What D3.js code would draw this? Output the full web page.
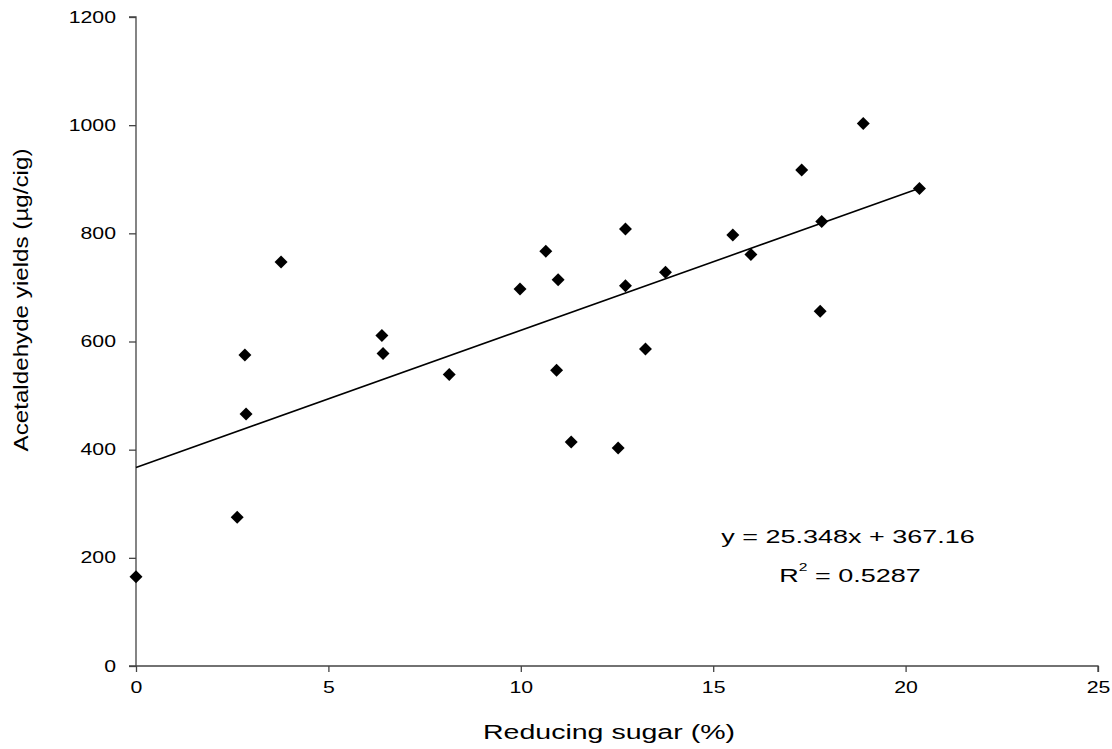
<!DOCTYPE html>
<html>
<head>
<meta charset="utf-8">
<script src="https://cdnjs.cloudflare.com/ajax/libs/d3/7.8.5/d3.min.js"></script>
<style>
  body { margin: 0; background: #fff; }
  svg { display: block; font-family: "Liberation Sans", Arial, sans-serif; }
</style>
</head>
<body>
<svg id="chart" width="1112" height="749"></svg>
<script>
// reducing sugar (%) and acetaldehyde yields (ug/cig)
const sugar = [0, 2.63, 2.83, 2.86, 3.77, 6.39, 6.42, 8.14, 9.98, 10.65, 10.97, 10.93, 11.31,
               12.53, 12.72, 12.72, 13.24, 13.76, 15.51, 15.98, 17.30, 17.78, 17.82, 18.90, 20.36];
const yields = [165, 275, 575, 466, 747, 611, 578, 539, 697, 767, 714, 547, 414,
                403, 808, 703, 586, 728, 797, 761, 917, 656, 822, 1003, 883];

const xTicks = [0, 5, 10, 15, 20, 25];
const yTicks = [0, 200, 400, 600, 800, 1000, 1200];

// trendline as printed on the chart
const slope = 25.348;
const intercept = 367.16;
const eqText = "y = 25.348x + 367.16";
const r2Text = "0.5287";

const svg = d3.select("#chart");
const plotLeft = 136, plotRight = 1098, plotTop = 17, plotBottom = 666;
const stretch = 1.33; // the original text is drawn wide

const x = d3.scaleLinear().domain([0, 25]).range([plotLeft, plotRight]);
const y = d3.scaleLinear().domain([0, 1200]).range([plotBottom, plotTop]);

// axes
const xAxis = svg.append("g")
    .attr("transform", "translate(0," + plotBottom + ")")
    .call(d3.axisBottom(x).tickValues(xTicks).tickFormat(d3.format("d")).tickSize(6).tickPadding(10));
const yAxis = svg.append("g")
    .attr("transform", "translate(" + plotLeft + ",0)")
    .call(d3.axisLeft(y).tickValues(yTicks).tickFormat(d3.format("d")).tickSize(7));

[xAxis, yAxis].forEach(function(ax) {
    ax.select(".domain").attr("stroke", "#444").attr("stroke-width", 1.3);
    ax.selectAll(".tick line").attr("stroke", "#444").attr("stroke-width", 1.3);
    ax.selectAll(".tick text")
        .attr("fill", "#000")
        .style("font-size", "16px")
        .style("font-family", "Liberation Sans, Arial, sans-serif");
});
xAxis.selectAll(".tick text")
    .attr("transform", "scale(" + stretch + ",1)");
yAxis.selectAll(".tick text")
    .attr("x", -20 / stretch)
    .attr("transform", "scale(" + stretch + ",1)");

// y axis line runs from the top tick down to the x axis
yAxis.select(".domain").attr("d", "M-7," + plotTop + "H0V" + plotBottom);
xAxis.select(".domain").attr("d", "M" + (plotLeft - 7) + ",0H" + plotRight + "V6");

// regression line
const xMax = d3.max(sugar);
svg.append("line")
    .attr("x1", x(0)).attr("y1", y(intercept))
    .attr("x2", x(xMax)).attr("y2", y(slope * xMax + intercept))
    .attr("stroke", "#000")
    .attr("stroke-width", 1.6);

// points
svg.append("g")
    .selectAll("path")
    .data(sugar)
    .enter()
    .append("path")
    .attr("d", d3.symbol().type(d3.symbolSquare).size(84))
    .attr("transform", function(d, i) {
        return "translate(" + x(d) + "," + y(yields[i]) + ") rotate(45)";
    })
    .attr("fill", "#000");

// axis titles
svg.append("text")
    .attr("x", 609)
    .attr("y", 739)
    .attr("text-anchor", "middle")
    .attr("textLength", 252)
    .attr("lengthAdjust", "spacingAndGlyphs")
    .style("font-size", "19.5px")
    .text("Reducing sugar (%)");

svg.append("text")
    .attr("transform", "translate(28,300) rotate(-90)")
    .attr("text-anchor", "middle")
    .attr("textLength", 303)
    .attr("lengthAdjust", "spacingAndGlyphs")
    .style("font-size", "20px")
    .text("Acetaldehyde yields (\u00b5g/cig)");

// equation
svg.append("text")
    .attr("transform", "translate(848,543) scale(1.42,1)")
    .attr("text-anchor", "middle")
    .style("font-size", "19px")
    .text(eqText);

const r2 = svg.append("text")
    .attr("transform", "translate(850,582) scale(1.42,1)")
    .attr("text-anchor", "middle")
    .style("font-size", "19px");
r2.append("tspan").text("R");
r2.append("tspan").attr("dy", -11).style("font-size", "11px").text("2");
r2.append("tspan").attr("dy", 11).text(" = " + r2Text);
</script>
</body>
</html>
